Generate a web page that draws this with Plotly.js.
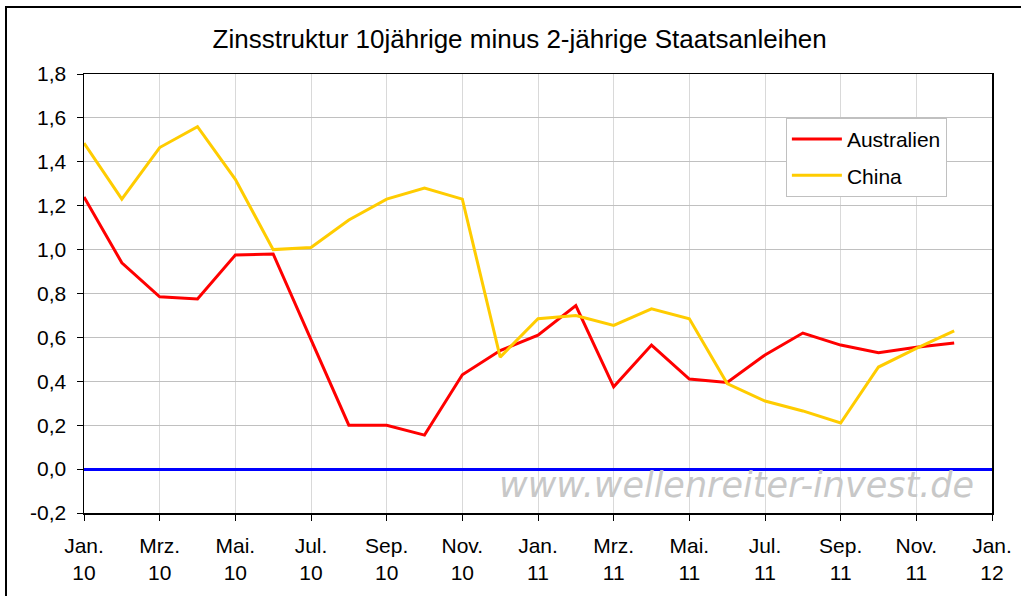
<!DOCTYPE html>
<html>
<head>
<meta charset="utf-8">
<script src="https://cdn.plot.ly/plotly-3.0.1.min.js"></script>
<style>
html,body{margin:0;padding:0;background:#fff;}
#chart{width:1021px;height:596px;}
</style>
</head>
<body>
<div id="chart"></div>
<script>
// Monthly observations Jan 2010 – Dez 2011
const months = ["Jan 10","Feb 10","Mrz 10","Apr 10","Mai 10","Jun 10","Jul 10","Aug 10","Sep 10","Okt 10","Nov 10","Dez 10",
                "Jan 11","Feb 11","Mrz 11","Apr 11","Mai 11","Jun 11","Jul 11","Aug 11","Sep 11","Okt 11","Nov 11","Dez 11"];
const australien = [1.24, 0.94, 0.785, 0.775, 0.975, 0.98, 0.59, 0.20, 0.20, 0.155, 0.43, 0.54,
                    0.61, 0.745, 0.375, 0.565, 0.41, 0.395, 0.52, 0.62, 0.565, 0.53, 0.555, 0.575];
const china      = [1.485, 1.23, 1.465, 1.56, 1.32, 1.00, 1.01, 1.135, 1.23, 1.28, 1.23, 0.51,
                    0.685, 0.70, 0.655, 0.73, 0.685, 0.39, 0.31, 0.265, 0.21, 0.465, 0.55, 0.63];
const xTickLabels = ["Jan.<br>10","Mrz.<br>10","Mai.<br>10","Jul.<br>10","Sep.<br>10","Nov.<br>10",
                     "Jan.<br>11","Mrz.<br>11","Mai.<br>11","Jul.<br>11","Sep.<br>11","Nov.<br>11","Jan.<br>12"];
const yTickValues = [-0.2, 0, 0.2, 0.4, 0.6, 0.8, 1.0, 1.2, 1.4, 1.6, 1.8];
const yTickLabels = ["-0,2","0,0","0,2","0,4","0,6","0,8","1,0","1,2","1,4","1,6","1,8"];

const xIdx = months.map((m, i) => i);
const xTickVals = xTickLabels.map((t, i) => i * 2);

const FONT = "Liberation Sans, Arial, sans-serif";

const traces = [
  {x: xIdx, y: australien, name: "Australien", type: "scatter", mode: "lines",
   legendgroup: "a", line: {color: "#ff0000", width: 3}},
  {x: xIdx, y: china, name: "China", type: "scatter", mode: "lines",
   legendgroup: "b", line: {color: "#ffcc00", width: 3}}
];

const layout = {
  width: 1021, height: 596,
  margin: {l: 84, r: 29, t: 74, b: 83},
  paper_bgcolor: "#ffffff", plot_bgcolor: "#ffffff",
  font: {family: FONT, color: "#000", size: 20},
  title: {text: "Zinsstruktur 10jährige minus 2-jährige Staatsanleihen",
          font: {family: FONT, size: 26, color: "#000"},
          xref: "container", x: 0.509, xanchor: "center",
          yref: "container", y: 0.935, yanchor: "middle"},
  xaxis: {range: [0, 24], tickmode: "array", tickvals: xTickVals, ticktext: xTickLabels,
          showgrid: true, gridcolor: "#d9d9d9", gridwidth: 1,
          showline: true, linecolor: "#000", linewidth: 1.5, mirror: true,
          ticks: "outside", ticklen: 6, tickcolor: "#000", tickwidth: 1,
          ticklabelstandoff: 7,
          zeroline: false, tickfont: {family: FONT, size: 21, color: "#000"}, fixedrange: true},
  yaxis: {range: [-0.2, 1.8], tickmode: "array", tickvals: yTickValues, ticktext: yTickLabels,
          showgrid: true, gridcolor: "#c0c0c0", gridwidth: 1,
          showline: true, linecolor: "#000", linewidth: 1.5, mirror: true,
          ticks: "outside", ticklen: 6, tickcolor: "#000", tickwidth: 1,
          ticklabelstandoff: 6,
          zeroline: true, zerolinecolor: "#0000ff", zerolinewidth: 3,
          tickfont: {family: FONT, size: 21, color: "#000"}, fixedrange: true},
  showlegend: true,
  legend: {x: 0.773, y: 0.9, xanchor: "left", yanchor: "top",
           bgcolor: "#ffffff", bordercolor: "#c0c0c0", borderwidth: 1,
           itemwidth: 50,
           font: {family: FONT, size: 21, color: "#000"}, tracegroupgap: 6},
  shapes: [
    {type: "rect", xref: "paper", yref: "paper", x0: -0.0859, x1: 1.04, y0: -0.22, y1: 1.1526,
     line: {color: "#000", width: 2}, fillcolor: "rgba(0,0,0,0)", layer: "below"}
  ],
  annotations: [
    {text: "www.wellenreiter-invest.de", xref: "paper", yref: "paper", x: 0.719, y: 0.064,
     xanchor: "center", yanchor: "middle", showarrow: false,
     font: {family: "DejaVu Sans, sans-serif", size: 35, color: "#c8c8c8", style: "italic"}}
  ]
};

Plotly.newPlot("chart", traces, layout, {staticPlot: true, displayModeBar: false});
</script>
</body>
</html>
